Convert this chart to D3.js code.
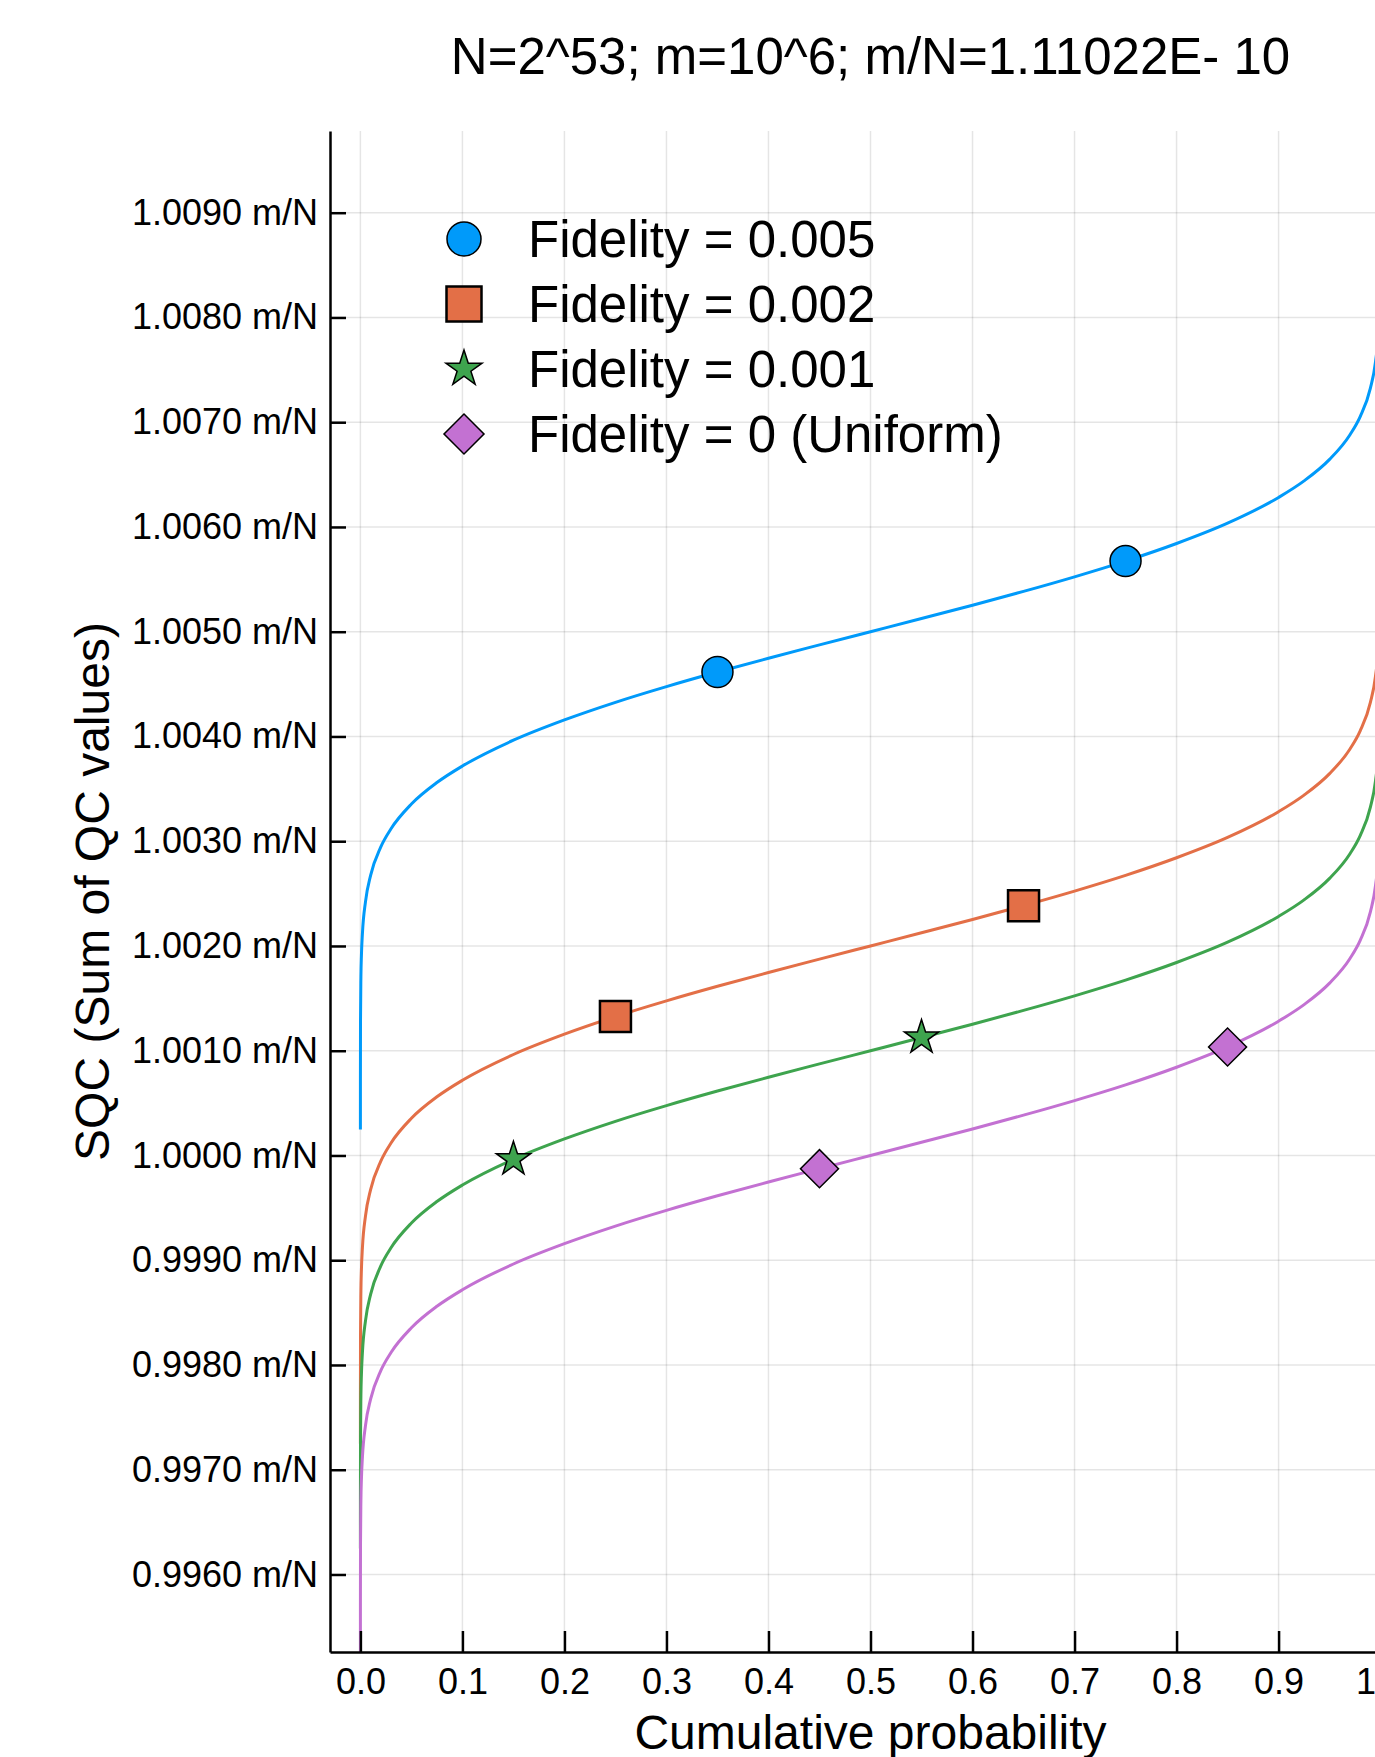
<!DOCTYPE html>
<html>
<head>
<meta charset="utf-8">
<script src="https://cdn.jsdelivr.net/npm/d3@7/dist/d3.min.js"></script>
<style>
  html, body { margin: 0; padding: 0; background: #fff; overflow: hidden; }
  svg { display: block; font-family: "Liberation Sans", Arial, sans-serif; }
</style>
</head>
<body>
<svg id="chart" width="1375" height="1757"></svg>
<script>
// cumulative probability at which each curve was read
const cumProb = [0.000001, 0.00001, 0.0001, 0.0005, 0.001, 0.002, 0.005, 0.01, 0.02, 0.03,
  0.05, 0.075, 0.1, 0.15, 0.2, 0.25, 0.3, 0.35, 0.4, 0.45, 0.5, 0.55, 0.6, 0.65, 0.7, 0.75,
  0.8, 0.85, 0.9, 0.925, 0.95, 0.97, 0.98, 0.99, 0.995, 0.998, 0.999, 0.9995, 0.9999,
  0.99999, 0.999999];

// SQC values, in units of m/N
const sqcFid005 = [1.000247, 1.000735, 1.001281, 1.001709, 1.001910, 1.002122, 1.002424,
  1.002674, 1.002946, 1.003119, 1.003355, 1.003560, 1.003718, 1.003964, 1.004158, 1.004326,
  1.004476, 1.004615, 1.004747, 1.004874, 1.005000, 1.005126, 1.005253, 1.005385, 1.005524,
  1.005674, 1.005842, 1.006036, 1.006282, 1.006440, 1.006645, 1.006881, 1.007054, 1.007326,
  1.007576, 1.007878, 1.008090, 1.008291, 1.008719, 1.009265, 1.009753];
const sqcFid002 = [0.997247, 0.997735, 0.998281, 0.998709, 0.998910, 0.999122, 0.999424,
  0.999674, 0.999946, 1.000119, 1.000355, 1.000560, 1.000718, 1.000964, 1.001158, 1.001326,
  1.001476, 1.001615, 1.001747, 1.001874, 1.002000, 1.002126, 1.002253, 1.002385, 1.002524,
  1.002674, 1.002842, 1.003036, 1.003282, 1.003440, 1.003645, 1.003881, 1.004054, 1.004326,
  1.004576, 1.004878, 1.005090, 1.005291, 1.005719, 1.006265, 1.006753];
const sqcFid001 = [0.996247, 0.996735, 0.997281, 0.997709, 0.997910, 0.998122, 0.998424,
  0.998674, 0.998946, 0.999119, 0.999355, 0.999560, 0.999718, 0.999964, 1.000158, 1.000326,
  1.000476, 1.000615, 1.000747, 1.000874, 1.001000, 1.001126, 1.001253, 1.001385, 1.001524,
  1.001674, 1.001842, 1.002036, 1.002282, 1.002440, 1.002645, 1.002881, 1.003054, 1.003326,
  1.003576, 1.003878, 1.004090, 1.004291, 1.004719, 1.005265, 1.005753];
const sqcUniform = [0.995247, 0.995735, 0.996281, 0.996709, 0.996910, 0.997122, 0.997424,
  0.997674, 0.997946, 0.998119, 0.998355, 0.998560, 0.998718, 0.998964, 0.999158, 0.999326,
  0.999476, 0.999615, 0.999747, 0.999874, 1.000000, 1.000126, 1.000253, 1.000385, 1.000524,
  1.000674, 1.000842, 1.001036, 1.001282, 1.001440, 1.001645, 1.001881, 1.002054, 1.002326,
  1.002576, 1.002878, 1.003090, 1.003291, 1.003719, 1.004265, 1.004753];

// probabilities where a marker sits on each curve
const markerProbs = [[0.35, 0.75], [0.25, 0.65], [0.15, 0.55], [0.45, 0.85]];

const legendLabels = ["Fidelity = 0.005", "Fidelity = 0.002", "Fidelity = 0.001", "Fidelity = 0 (Uniform)"];
const xTicks = [0, 0.1, 0.2, 0.3, 0.4, 0.5, 0.6, 0.7, 0.8, 0.9, 1.0];
const yTicks = [0.996, 0.997, 0.998, 0.999, 1.000, 1.001, 1.002, 1.003, 1.004, 1.005, 1.006, 1.007, 1.008, 1.009];
const titleText = "N=2^53; m=10^6; m/N=1.11022E- 10";

const seriesValues = [sqcFid005, sqcFid002, sqcFid001, sqcUniform];
const colors = ["#009AFA", "#E36F47", "#3EA44E", "#C371D2"];
const symbols = [d3.symbolCircle, d3.symbolSquare, d3.symbolStar, d3.symbolSquare];
const markerSizes = [755, 961, 364, 723];
const legendSizes = [908, 1225, 405, 800];
const rotations = [0, 0, 0, 45];

const svg = d3.select("#chart");
const plot = {left: 330, right: 1411, top: 131, bottom: 1652};

const x = d3.scaleLinear().domain([-0.0298, 1.0298]).range([plot.left, plot.right]);
const y = d3.scaleLinear().domain([0.99526, 1.00978]).range([plot.bottom, plot.top]);

// grid
const grid = svg.append("g").attr("stroke", "#000").attr("stroke-opacity", 0.1).attr("stroke-width", 1.5);
grid.selectAll(".vgrid").data(xTicks).enter().append("line")
  .attr("x1", d => x(d)).attr("x2", d => x(d))
  .attr("y1", plot.top).attr("y2", plot.bottom);
grid.selectAll(".hgrid").data(yTicks).enter().append("line")
  .attr("x1", plot.left).attr("x2", plot.right)
  .attr("y1", d => y(d)).attr("y2", d => y(d));

svg.append("defs").append("clipPath").attr("id", "plotClip")
  .append("rect")
  .attr("x", plot.left).attr("y", plot.top)
  .attr("width", plot.right - plot.left).attr("height", plot.bottom - plot.top);

const line = d3.line()
  .x(d => x(d[0]))
  .y(d => y(d[1]))
  .curve(d3.curveMonotoneX);

const series = seriesValues.map((vals, i) => ({
  color: colors[i],
  points: cumProb.map((p, j) => [p, vals[j]]),
  markers: markerProbs[i].map(p => [p, vals[cumProb.indexOf(p)]]),
}));

svg.append("g").attr("clip-path", "url(#plotClip)")
  .selectAll("path").data(series).enter().append("path")
  .attr("fill", "none")
  .attr("stroke", d => d.color)
  .attr("stroke-width", 3)
  .attr("d", d => line(d.points));

// markers on the curves
series.forEach((s, i) => {
  svg.append("g").selectAll("path").data(s.markers).enter().append("path")
    .attr("d", d3.symbol().type(symbols[i]).size(markerSizes[i]))
    .attr("transform", d => `translate(${x(d[0])},${y(d[1])}) rotate(${rotations[i]})`)
    .attr("fill", s.color)
    .attr("stroke", "#000")
    .attr("stroke-width", i === 1 ? 2.5 : 1.5);
});

// axes
const xAxis = svg.append("g").attr("transform", `translate(0,${plot.bottom})`)
  .call(d3.axisBottom(x).tickValues(xTicks).tickFormat(d3.format(".1f"))
    .tickSizeInner(-21).tickSizeOuter(0).tickPadding(16));
const yAxis = svg.append("g").attr("transform", `translate(${plot.left},0)`)
  .call(d3.axisLeft(y).tickValues(yTicks).tickFormat(d => d3.format(".4f")(d) + " m/N")
    .tickSizeInner(-16).tickSizeOuter(0).tickPadding(12));
[xAxis, yAxis].forEach(a => {
  a.attr("font-family", null).attr("font-size", 36);
  a.select(".domain").attr("stroke", "#000").attr("stroke-width", 2.5);
  a.selectAll(".tick line").attr("stroke", "#000").attr("stroke-width", 2.5);
  a.selectAll(".tick text").attr("fill", "#000");
});

// titles
svg.append("text")
  .attr("x", (plot.left + plot.right) / 2).attr("y", 74)
  .attr("text-anchor", "middle").attr("font-size", 51)
  .text(titleText);
svg.append("text")
  .attr("x", (plot.left + plot.right) / 2).attr("y", 1749)
  .attr("text-anchor", "middle").attr("font-size", 48)
  .text("Cumulative probability");
svg.append("text")
  .attr("transform", `translate(109,${(plot.top + plot.bottom) / 2}) rotate(-90)`)
  .attr("text-anchor", "middle").attr("font-size", 48)
  .text("SQC (Sum of QC values)");

// legend
const legend = svg.append("g").attr("transform", "translate(464,239)");
const rows = legend.selectAll("g").data(legendLabels).enter().append("g")
  .attr("transform", (d, i) => `translate(0,${i * 65})`);
rows.append("path")
  .attr("d", (d, i) => d3.symbol().type(symbols[i]).size(legendSizes[i])())
  .attr("transform", (d, i) => `rotate(${rotations[i]})`)
  .attr("fill", (d, i) => colors[i])
  .attr("stroke", "#000")
  .attr("stroke-width", (d, i) => i === 1 ? 2.5 : 1.5);
rows.append("text")
  .attr("x", 64).attr("y", 18)
  .attr("font-size", 51)
  .text(d => d);
</script>
</body>
</html>
